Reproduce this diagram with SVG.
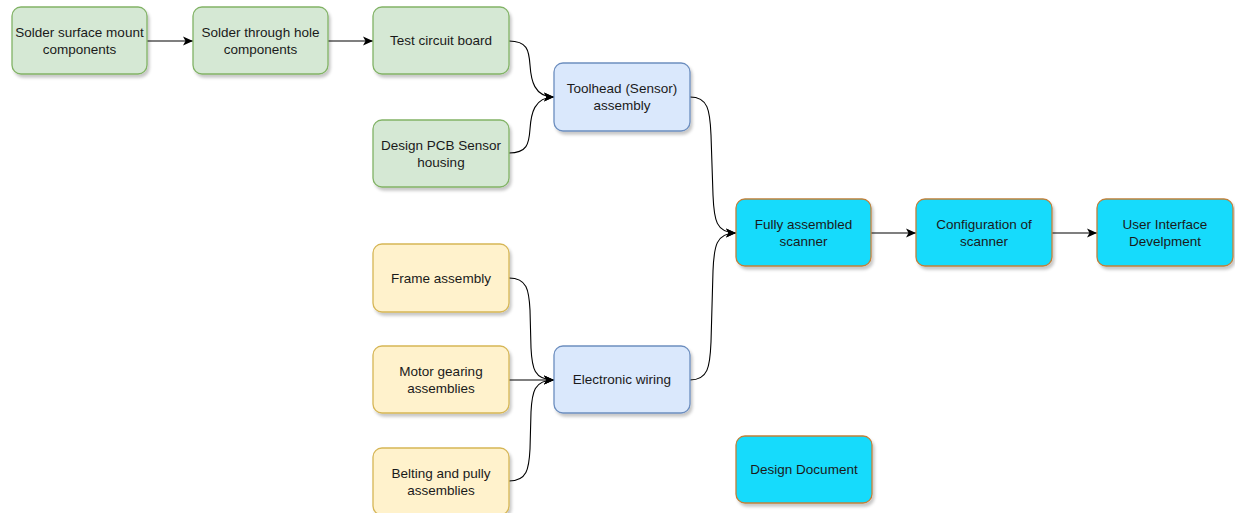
<svg xmlns="http://www.w3.org/2000/svg" width="1235" height="513" viewBox="0 0 1235 513">
<style>
.n{stroke-width:1.3}
.g{fill:#d5e8d4;stroke:#82b366}
.b{fill:#dae8fc;stroke:#6c8ebf}
.y{fill:#fff2cc;stroke:#d6b656}
.c{fill:#14dbfc;stroke:#c0803a}
text{font-family:"Liberation Sans",Arial,sans-serif;font-size:13.5px;fill:#1a1a1a;text-anchor:middle}
.e{fill:none;stroke:#000;stroke-width:1.1;marker-end:url(#a)}
</style>
<defs>
<filter id="s" x="-10%" y="-10%" width="130%" height="140%">
<feDropShadow dx="2" dy="3" stdDeviation="1.5" flood-color="#000" flood-opacity="0.22"/>
</filter>
<marker id="a" markerUnits="userSpaceOnUse" markerWidth="12" markerHeight="10" refX="10" refY="5" orient="auto">
<path d="M0,0.5 L10,5 L0,9.5 L2.5,5 Z" fill="#000"/>
</marker>
</defs>
<g id="edges">
<path class="e" d="M147 41 H193"/>
<path class="e" d="M328 41 H373"/>
<path class="e" d="M509 41 C527 41 529 50 530 65 C531 80 534 97 554 97"/>
<path class="e" d="M509 153 C527 153 529 144 530 129 C531 114 534 97 554 97"/>
<path class="e" d="M690 97 C708 97 710 110 711 135 L713 195 C714 220 716 233 736 233"/>
<path class="e" d="M690 380 C708 380 710 367 711 342 L713 271 C714 246 716 233 736 233"/>
<path class="e" d="M509 278 C527 278 529 290 530 310 L531 348 C532 368 534 380 554 380"/>
<path class="e" d="M509 380 H554"/>
<path class="e" d="M509 481 C527 481 529 469 530 449 L531 412 C532 392 534 380 554 380"/>
<path class="e" d="M871 233 H916"/>
<path class="e" d="M1052 233 H1097"/>
</g>
<g id="n1"><rect class="n g" x="12" y="7" width="135" height="67" rx="9" filter="url(#s)"/><text x="79.5" y="36.7">Solder surface mount</text><text x="79.5" y="53.7">components</text></g>
<g id="n2"><rect class="n g" x="193" y="7" width="135" height="67" rx="9" filter="url(#s)"/><text x="260.5" y="36.7">Solder through hole</text><text x="260.5" y="53.7">components</text></g>
<g id="n3"><rect class="n g" x="373" y="7" width="136" height="67" rx="9" filter="url(#s)"/><text x="441" y="45.2">Test circuit board</text></g>
<g id="n4"><rect class="n g" x="373" y="120" width="136" height="67" rx="9" filter="url(#s)"/><text x="441" y="149.7">Design PCB Sensor</text><text x="441" y="166.7">housing</text></g>
<g id="n5"><rect class="n b" x="554" y="63" width="136" height="68" rx="9" filter="url(#s)"/><text x="622" y="93.2">Toolhead (Sensor)</text><text x="622" y="110.2">assembly</text></g>
<g id="n6"><rect class="n y" x="373" y="244" width="136" height="68" rx="9" filter="url(#s)"/><text x="441" y="282.7">Frame assembly</text></g>
<g id="n7"><rect class="n y" x="373" y="346" width="136" height="67" rx="9" filter="url(#s)"/><text x="441" y="376.2">Motor gearing</text><text x="441" y="393.2">assemblies</text></g>
<g id="n8"><rect class="n y" x="373" y="448" width="136" height="67" rx="9" filter="url(#s)"/><text x="441" y="477.7">Belting and pully</text><text x="441" y="494.7">assemblies</text></g>
<g id="n9"><rect class="n b" x="554" y="346" width="136" height="67" rx="9" filter="url(#s)"/><text x="622" y="384.2">Electronic wiring</text></g>
<g id="n10"><rect class="n c" x="736" y="199" width="135" height="67" rx="9" filter="url(#s)"/><text x="803.5" y="228.7">Fully assembled</text><text x="803.5" y="245.7">scanner</text></g>
<g id="n11"><rect class="n c" x="916" y="199" width="136" height="67" rx="9" filter="url(#s)"/><text x="984" y="228.7">Configuration of</text><text x="984" y="245.7">scanner</text></g>
<g id="n12"><rect class="n c" x="1097" y="199" width="136" height="67" rx="9" filter="url(#s)"/><text x="1165" y="228.7">User Interface</text><text x="1165" y="245.7">Develpment</text></g>
<g id="n13"><rect class="n c" x="736" y="436" width="136" height="67" rx="9" filter="url(#s)"/><text x="804" y="474.2">Design Document</text></g>
</svg>
